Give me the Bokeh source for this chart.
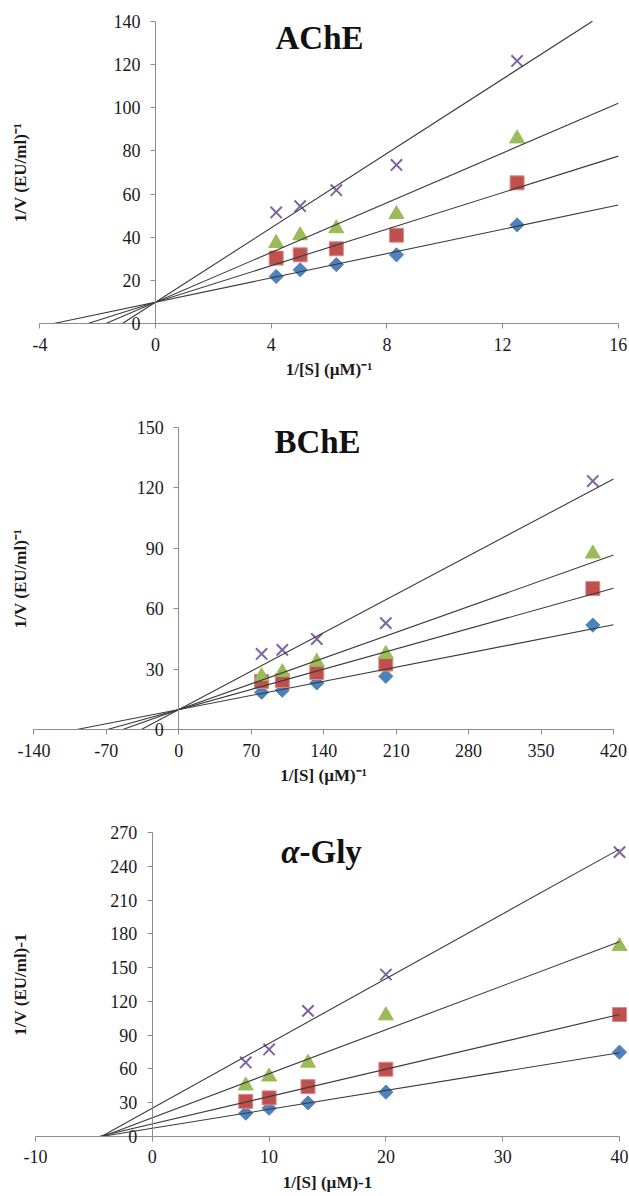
import numpy as np
from bokeh.plotting import figure
from bokeh.models import Range1d, FixedTicker, Label
from bokeh.layouts import column
from bokeh.embed import file_html
from bokeh.resources import INLINE

# ---------------- data ----------------
ache_x = [4.17, 5.0, 6.25, 8.33, 12.5]
ache_blue = [21.9, 25.0, 27.4, 31.9, 45.8]
ache_red = [30.4, 31.9, 34.7, 41.0, 65.2]
ache_green = [37.3, 40.9, 44.1, 50.7, 85.7]
ache_purple = [51.5, 54.4, 61.8, 73.5, 121.6]
ache_intercept = 10.0
ache_xticks = [-4, 0, 4, 8, 12, 16]
ache_yticks = [0, 20, 40, 60, 80, 100, 120, 140]

bche_x = [80.0, 100.0, 133.3, 200.0, 400.0]
bche_blue = [18.6, 19.6, 23.2, 26.5, 51.9]
bche_red = [24.0, 24.4, 28.4, 32.6, 70.0]
bche_green = [26.5, 28.5, 33.6, 37.5, 87.3]
bche_purple = [37.6, 39.6, 45.0, 52.9, 123.3]
bche_intercept = 10.0
bche_xticks = [-140, -70, 0, 70, 140, 210, 280, 350, 420]
bche_yticks = [0, 30, 60, 90, 120, 150]

agly_x = [8.0, 10.0, 13.33, 20.0, 40.0]
agly_blue = [20.5, 24.8, 29.7, 39.2, 74.8]
agly_red = [31.0, 34.1, 44.1, 59.6, 108.3]
agly_green = [45.0, 53.0, 65.3, 107.4, 169.0]
agly_purple = [65.6, 77.2, 111.5, 143.9, 252.8]
agly_xticks = [-10, 0, 10, 20, 30, 40]
agly_yticks = [0, 30, 60, 90, 120, 150, 180, 210, 240, 270]

# ---------------- style ----------------
FONT = "Liberation Serif"
BLUE, RED, GREEN, PURPLE = "#4F81BD", "#C0504D", "#9BBB59", "#8064A2"
AXIS_COLOR = "#8C8C8C"
LINE_COLOR = "#3A3A3A"
TEXT_COLOR = "#1a1a1a"
W = 629


def fit_fixed(x, y, b):
    x = np.asarray(x, float)
    y = np.asarray(y, float)
    m = np.sum(x * (y - b)) / np.sum(x * x)
    return m, b


def fit_ols(x, y):
    m, b = np.polyfit(np.asarray(x, float), np.asarray(y, float), 1)
    return m, b


class Geo:
    """pixel geometry of the plot area inside a canvas of size W x H"""
    def __init__(self, H, xv, xp, yv, yp):
        self.H = H
        self.sx = (xp[1] - xp[0]) / (xv[1] - xv[0])
        self.x0v, self.x0p = xv[0], xp[0]
        self.sy = (yp[0] - yp[1]) / (yv[1] - yv[0])   # yp measured from top
        self.y0v, self.y0p = yv[0], yp[0]

    def dx(self, px):
        return self.x0v + (px - self.x0p) / self.sx

    def dy(self, py):
        return self.y0v + (self.y0p - py) / self.sy


def make_panel(title_parts, x, series, fits, xticks, yticks,
               ylabel, xlabel, geo, title_px):
    H = geo.H
    p = figure(width=W, height=H,
               x_range=Range1d(geo.dx(0), geo.dx(W)),
               y_range=Range1d(geo.dy(H), geo.dy(0)),
               output_backend="svg", toolbar_location=None,
               min_border=0, min_border_left=0, min_border_right=0,
               min_border_top=0, min_border_bottom=0)
    p.grid.visible = False
    p.outline_line_color = None
    p.background_fill_color = "white"
    p.border_fill_color = "white"

    for ax, ticks in ((p.xaxis, xticks), (p.yaxis, yticks)):
        ax.ticker = FixedTicker(ticks=ticks)
        ax.bounds = (ticks[0], ticks[-1])
        ax.fixed_location = 0
        ax.major_label_overrides = {t: str(t) for t in ticks}
        ax.axis_line_color = AXIS_COLOR
        ax.major_tick_line_color = AXIS_COLOR
        ax.minor_tick_line_color = None
        ax.major_tick_in = 0
        ax.major_tick_out = 5
        ax.major_label_text_font = FONT
        ax.major_label_text_font_size = "18px"
        ax.major_label_text_color = TEXT_COLOR
    p.yaxis.major_label_standoff = 10
    p.xaxis.major_label_standoff = 9
    p.xaxis.axis_label = xlabel
    p.xaxis.axis_label_text_font = FONT
    p.xaxis.axis_label_text_font_size = "17px"
    p.xaxis.axis_label_text_font_style = "bold"
    p.xaxis.axis_label_text_color = TEXT_COLOR
    p.xaxis.axis_label_standoff = 6

    # vertical axis title at the far left
    p.add_layout(Label(x=geo.dx(20), y=(yticks[0] + yticks[-1]) / 2, text=ylabel,
                       angle=np.pi / 2, text_align="center", text_baseline="middle",
                       text_font=FONT, text_font_size="17px", text_font_style="bold",
                       text_color=TEXT_COLOR))

    blue, red, green, purple = series
    p.scatter(x, blue, marker="square", angle=np.pi / 4, size=10,
              fill_color=BLUE, line_color=BLUE)
    p.scatter(x, red, marker="square", size=14, fill_color=RED, line_color="#D98C8A")
    p.scatter(x, green, marker="triangle", size=15, fill_color=GREEN, line_color=GREEN)
    p.scatter(x, purple, marker="x", size=16, line_color=PURPLE, line_width=2)

    xmax, ymax = xticks[-1], yticks[-1]
    for (m, b) in fits:
        x0 = -b / m
        x1 = min(xmax, (ymax - b) / m)
        p.line([x0, x1], [0.0, m * x1 + b], line_color=LINE_COLOR, line_width=1.1)

    tpx, tpy = title_px
    common = dict(x=geo.dx(tpx), y=geo.dy(tpy), text_font=FONT, text_font_size="33px",
                  text_baseline="alphabetic", text_color="#111111")
    if len(title_parts) == 1:
        p.add_layout(Label(text=title_parts[0], text_font_style="bold",
                           text_align="center", **common))
    else:
        p.add_layout(Label(text=title_parts[0], text_font_style="bold italic",
                           text_align="right", **common))
        p.add_layout(Label(text=title_parts[1], text_font_style="bold",
                           text_align="left", **common))
    return p


ache_series = [ache_blue, ache_red, ache_green, ache_purple]
bche_series = [bche_blue, bche_red, bche_green, bche_purple]
agly_series = [agly_blue, agly_red, agly_green, agly_purple]

# canvases stacked: 0-392, 392-792, 792-1196 (page pixels)
g1 = Geo(392, (-4, 16), (39.4, 617.8), (0, 140), (323.3, 20.7))
g2 = Geo(400, (-140, 420), (33.4, 613.0), (0, 150), (729.3 - 392, 426.7 - 392))
g3 = Geo(404, (-10, 40), (35.0, 619.0), (0, 270), (1135.7 - 792, 832.3 - 792))

p1 = make_panel(["AChE"], ache_x, ache_series,
                [fit_fixed(ache_x, s, ache_intercept) for s in ache_series],
                ache_xticks, ache_yticks,
                "1/V (EU/ml)\u207b\u00b9", "1/[S] (\u00b5M)\u207b\u00b9",
                g1, (319, 37))
p2 = make_panel(["BChE"], bche_x, bche_series,
                [fit_fixed(bche_x, s, bche_intercept) for s in bche_series],
                bche_xticks, bche_yticks,
                "1/V (EU/ml)\u207b\u00b9", "1/[S] (\u00b5M)\u207b\u00b9",
                g2, (317, 441 - 392))
p3 = make_panel(["\u03b1", "-Gly"], agly_x, agly_series,
                [fit_ols(agly_x, s) for s in agly_series],
                agly_xticks, agly_yticks,
                "1/V (EU/ml)-1", "1/[S] (\u00b5M)-1",
                g3, (299, 851 - 792))

layout = column(p1, p2, p3, spacing=0)
open("out.html", "w").write(file_html(layout, INLINE))
